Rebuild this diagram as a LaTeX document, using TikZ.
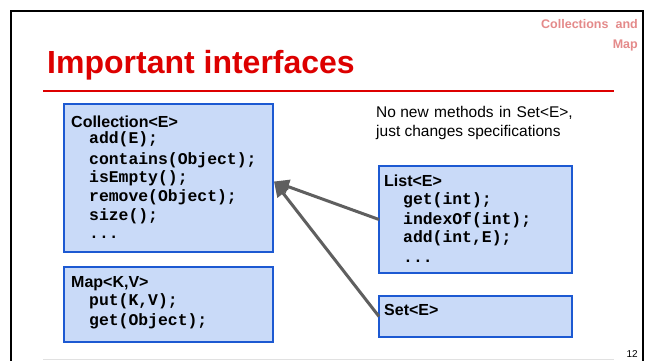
\documentclass[tikz,border=0pt]{standalone}
\usepackage{fontspec}
\setmainfont{Liberation Sans}
\setmonofont{Liberation Mono}
\usetikzlibrary{arrows.meta}

\definecolor{titlered}{RGB}{221,0,0}
\definecolor{hdrpink}{RGB}{228,138,138}
\definecolor{boxfill}{RGB}{201,218,248}
\definecolor{boxline}{RGB}{28,89,210}
\definecolor{arrowgray}{RGB}{95,95,95}
\definecolor{footgray}{RGB}{225,225,225}

\tikzset{
  ibox/.style={draw=boxline, fill=boxfill, line width=2pt, rectangle,
    anchor=north west, inner sep=0pt, outer sep=0pt},
  ihead/.style={anchor=base west, inner sep=0pt,
    font=\bfseries\fontsize{16}{18}\selectfont},
  icode/.style={anchor=base west, inner sep=0pt,
    font=\ttfamily\bfseries\fontsize{16.4}{19}\selectfont},
  inherit/.style={draw=arrowgray, line width=3pt,
    -{Triangle[length=15pt,width=14pt]}},
  note/.style={anchor=base west, inner sep=0pt,
    font=\fontsize{15.5}{18}\selectfont},
  hdr/.style={anchor=base east, inner sep=0pt, text=hdrpink,
    font=\bfseries\fontsize{12.5}{14}\selectfont},
}

\begin{document}
\begin{tikzpicture}[x=1pt,y=-1pt]
\useasboundingbox (0,0) rectangle (646,360);
\fill[white] (0,0) rectangle (646,360);

% slide frame
\draw[line width=2pt] (11,362) -- (11,11) -- (643,11) -- (643,362);

% running header
\node[hdr] (hdrA) at (638,28) {Collections\hspace{7pt}and};
\node[hdr] (hdrB) at (638,48) {Map};

% title and rule
\node[anchor=base west, inner sep=0pt, text=titlered,
  font=\bfseries\fontsize{32}{38}\selectfont] (title) at (47,73) {Important interfaces};
\draw[titlered, line width=2.2pt] (43,91) -- (614,91);

% Collection<E>
\node[ibox, minimum width=209pt, minimum height=148pt] (coll) at (64,104) {};
\node[ihead] (collH) at (71,127) {Collection<E>};
\node[icode] (c1) at (89,143.3) {add(E);};
\node[icode] (c2) at (89,164.3) {contains(Object);};
\node[icode] (c3) at (89,182.7) {isEmpty();};
\node[icode] (c4) at (89,201.7) {remove(Object);};
\node[icode] (c5) at (89,220) {size();};
\node[icode] (c6) at (89,238) {...};

% Map<K,V>
\node[ibox, minimum width=209pt, minimum height=75pt] (map) at (64,267) {};
\node[ihead] (mapH) at (71,287.3) {Map<K,V>};
\node[icode] (m1) at (89,305.7) {put(K,V);};
\node[icode] (m2) at (89,325.7) {get(Object);};

% note
\node[note] (note1) at (376,117.5) {No new\hspace{5.5pt}methods\hspace{5.5pt}in\hspace{5.5pt}Set<E>,};
\node[note] (note2) at (376,136) {just changes specifications};

% List<E>
\node[ibox, minimum width=193pt, minimum height=107pt] (list) at (379,166) {};
\node[ihead] (listH) at (384,186.7) {List<E>};
\node[icode] (l1) at (403,204) {get(int);};
\node[icode] (l2) at (403,224) {indexOf(int);};
\node[icode] (l3) at (403,242.7) {add(int,E);};
\node[icode] (l4) at (403,262) {...};

% Set<E>
\node[ibox, minimum width=193pt, minimum height=41pt] (set) at (379,296) {};
\node[ihead] (setH) at (384,315) {Set<E>};

% inheritance arrows
\coordinate (tip) at (274,181.5);
\draw[inherit] (list.west) -- (tip);
\draw[inherit] (set.west) -- (tip);

% footer
\draw[footgray, line width=0.8pt] (43,359) -- (614,359);
\node[anchor=base east, inner sep=0pt, font=\fontsize{10}{12}\selectfont] (page) at (638,357) {12};
\end{tikzpicture}
\end{document}
